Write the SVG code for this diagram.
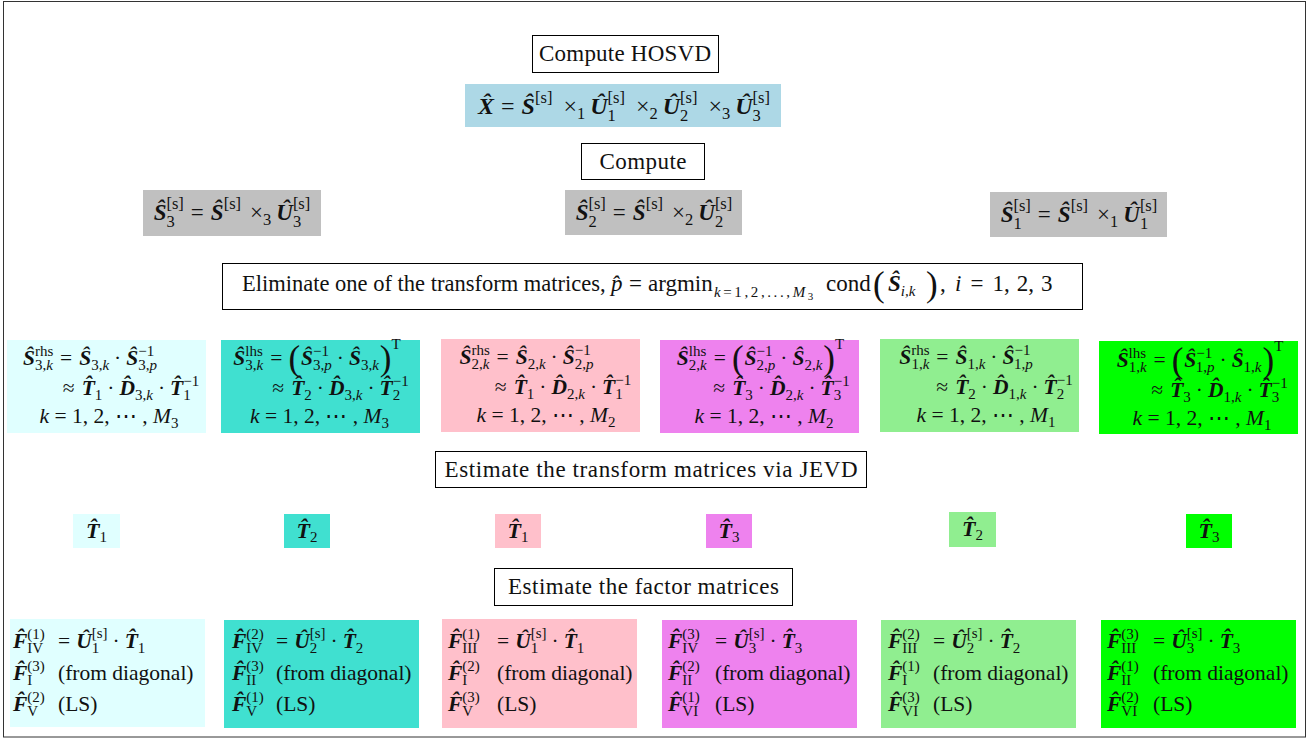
<svg xmlns="http://www.w3.org/2000/svg" width="1310" height="739" viewBox="0 0 1310 739">
<style>
.f{font-family:"Liberation Serif","DejaVu Serif",serif;fill:#111}
.m{font-size:21.5px}
.L{font-size:23px}
.b{font-weight:bold;font-style:italic}
.i{font-style:italic}
.s{font-size:15px}
.s2{font-size:16.5px}
.p{font-size:35px}
.lbl{fill:#fff;stroke:#000;stroke-width:1}
</style>
<rect x="3.5" y="1.5" width="1302" height="735.5" fill="none" stroke="#333" stroke-width="1"/>
<g id="connectors"/>

<g id="n-hosvd-label"><rect class="lbl" x="532.5" y="35.5" width="186" height="37"/><text class="f L" x="625" y="61" text-anchor="middle" textLength="172" lengthAdjust="spacing">Compute HOSVD</text></g>

<g id="n-hosvd"><rect x="465" y="84" width="316" height="43" fill="#ADD8E6"/><text class="f" font-size="24" x="624" y="114" text-anchor="middle"><tspan class="b">X&#x302;</tspan><tspan dx="7">=</tspan><tspan class="b" dx="7">&#x15C;</tspan><tspan class="s2" dy="-11">[s]</tspan><tspan dx="11" dy="11">&#xD7;</tspan><tspan class="s2" dy="5">1</tspan><tspan class="b" dx="5" dy="-5">&#xDB;</tspan><tspan class="s2" dy="7">1</tspan><tspan class="s2" dx="-8.3" dy="-18">[s]</tspan><tspan dx="11" dy="11">&#xD7;</tspan><tspan class="s2" dy="5">2</tspan><tspan class="b" dx="5" dy="-5">&#xDB;</tspan><tspan class="s2" dy="7">2</tspan><tspan class="s2" dx="-8.3" dy="-18">[s]</tspan><tspan dx="11" dy="11">&#xD7;</tspan><tspan class="s2" dy="5">3</tspan><tspan class="b" dx="5" dy="-5">&#xDB;</tspan><tspan class="s2" dy="7">3</tspan><tspan class="s2" dx="-8.3" dy="-18">[s]</tspan></text></g>

<g id="n-compute"><rect class="lbl" x="581.5" y="143.5" width="123" height="36"/><text class="f L" x="643" y="168.5" text-anchor="middle" textLength="87" lengthAdjust="spacing">Compute</text></g>

<g id="n-s3"><rect x="143" y="190" width="178" height="46" fill="#C0C0C0"/><text class="f" font-size="23" x="232" y="220" text-anchor="middle"><tspan class="b">&#x15C;</tspan><tspan class="s2" dy="7">3</tspan><tspan class="s2" dx="-8.3" dy="-18">[s]</tspan><tspan dx="7" dy="11">=</tspan><tspan class="b" dx="7">&#x15C;</tspan><tspan class="s2" dy="-11">[s]</tspan><tspan dx="9" dy="11">&#xD7;</tspan><tspan class="s2" dy="5">3</tspan><tspan class="b" dx="5" dy="-5">&#xDB;</tspan><tspan class="s2" dy="7">3</tspan><tspan class="s2" dx="-8.3" dy="-18">[s]</tspan></text></g>
<g id="n-s2"><rect x="565" y="190" width="177" height="45" fill="#C0C0C0"/><text class="f" font-size="23" x="654" y="220" text-anchor="middle"><tspan class="b">&#x15C;</tspan><tspan class="s2" dy="7">2</tspan><tspan class="s2" dx="-8.3" dy="-18">[s]</tspan><tspan dx="7" dy="11">=</tspan><tspan class="b" dx="7">&#x15C;</tspan><tspan class="s2" dy="-11">[s]</tspan><tspan dx="9" dy="11">&#xD7;</tspan><tspan class="s2" dy="5">2</tspan><tspan class="b" dx="5" dy="-5">&#xDB;</tspan><tspan class="s2" dy="7">2</tspan><tspan class="s2" dx="-8.3" dy="-18">[s]</tspan></text></g>
<g id="n-s1"><rect x="990" y="192" width="177" height="45" fill="#C0C0C0"/><text class="f" font-size="23" x="1079" y="222" text-anchor="middle"><tspan class="b">&#x15C;</tspan><tspan class="s2" dy="7">1</tspan><tspan class="s2" dx="-8.3" dy="-18">[s]</tspan><tspan dx="7" dy="11">=</tspan><tspan class="b" dx="7">&#x15C;</tspan><tspan class="s2" dy="-11">[s]</tspan><tspan dx="9" dy="11">&#xD7;</tspan><tspan class="s2" dy="5">1</tspan><tspan class="b" dx="5" dy="-5">&#xDB;</tspan><tspan class="s2" dy="7">1</tspan><tspan class="s2" dx="-8.3" dy="-18">[s]</tspan></text></g>

<g id="n-elim"><rect class="lbl" x="222.5" y="263.5" width="860" height="46"/>
<text class="f" font-size="22.5" x="242" y="291">Eliminate one of the transform matrices,</text>
<text class="f i L" x="611" y="291">p&#x302;</text>
<text class="f L" x="629" y="291">=</text>
<text class="f L" x="648" y="291">argmin</text>
<text class="f" font-size="15" x="714" y="297" letter-spacing="2.6"><tspan class="i">k</tspan>=1,2,...,<tspan class="i">M</tspan><tspan font-size="11" dy="3">3</tspan></text>
<text class="f L" x="826" y="291">cond</text>
<text class="f p" x="873" y="296">(</text>
<text class="f L" x="888" y="291"><tspan class="b">&#x15C;</tspan><tspan class="s i" dy="5">i,k</tspan></text>
<text class="f p" x="926" y="296">)</text>
<text class="f L" x="940" y="291">,</text>
<text class="f L" x="955" y="291"><tspan class="i">i</tspan><tspan dx="9">=</tspan><tspan dx="9">1,</tspan><tspan dx="7">2,</tspan><tspan dx="7">3</tspan></text>
</g>

<g id="n-r1"><rect x="7" y="340" width="199" height="93" fill="#E0FFFF"/>
<text class="f m" x="90" y="365" text-anchor="middle"><tspan class="b">&#x15C;</tspan><tspan class="s" dy="-9">rhs</tspan><tspan class="s" dx="-18.3" dy="14">3,<tspan class="i">k</tspan></tspan><tspan dx="7" dy="-5">=</tspan><tspan class="b" dx="7">&#x15C;</tspan><tspan class="s" dy="5">3,<tspan class="i">k</tspan></tspan><tspan dx="5" dy="-5">&#xB7;</tspan><tspan class="b" dx="5">&#x15C;</tspan><tspan class="s" dy="-9">&#x2212;1</tspan><tspan class="s" dx="-16" dy="14">3,<tspan class="i">p</tspan></tspan></text>
<text class="f m" x="131" y="395" text-anchor="middle"><tspan>&#x2248;</tspan><tspan class="b" dx="7">T&#x302;</tspan><tspan class="s" dy="5">1</tspan><tspan dx="5" dy="-5">&#xB7;</tspan><tspan class="b" dx="5">D&#x302;</tspan><tspan class="s" dy="5">3,<tspan class="i">k</tspan></tspan><tspan dx="5" dy="-5">&#xB7;</tspan><tspan class="b" dx="5">T&#x302;</tspan><tspan class="s" dy="5">1</tspan><tspan class="s" dx="-7.5" dy="-14">&#x2212;1</tspan></text>
<text class="f m" x="109" y="423" text-anchor="middle"><tspan class="i">k</tspan> = 1, 2, &#x22EF; , <tspan class="i">M</tspan><tspan class="s" dy="5">3</tspan></text>
</g>

<g id="n-r2"><rect x="221" y="340" width="199" height="93" fill="#40E0D0"/>
<text class="f m" x="317" y="365" text-anchor="middle"><tspan class="b">&#x15C;</tspan><tspan class="s" dy="-9">lhs</tspan><tspan class="s" dx="-17.5" dy="14">3,<tspan class="i">k</tspan></tspan><tspan dx="7" dy="-5">=</tspan><tspan class="p" dx="6" dy="5">(</tspan><tspan class="b" dx="1" dy="-5">&#x15C;</tspan><tspan class="s" dy="-9">&#x2212;1</tspan><tspan class="s" dx="-16" dy="14">3,<tspan class="i">p</tspan></tspan><tspan dx="5" dy="-5">&#xB7;</tspan><tspan class="b" dx="5">&#x15C;</tspan><tspan class="s" dy="5">3,<tspan class="i">k</tspan></tspan><tspan class="p" dx="1">)</tspan><tspan class="s" dy="-21">T</tspan></text>
<text class="f m" x="340.5" y="395" text-anchor="middle"><tspan>&#x2248;</tspan><tspan class="b" dx="7">T&#x302;</tspan><tspan class="s" dy="5">2</tspan><tspan dx="5" dy="-5">&#xB7;</tspan><tspan class="b" dx="5">D&#x302;</tspan><tspan class="s" dy="5">3,<tspan class="i">k</tspan></tspan><tspan dx="5" dy="-5">&#xB7;</tspan><tspan class="b" dx="5">T&#x302;</tspan><tspan class="s" dy="5">2</tspan><tspan class="s" dx="-7.5" dy="-14">&#x2212;1</tspan></text>
<text class="f m" x="319.5" y="423" text-anchor="middle"><tspan class="i">k</tspan> = 1, 2, &#x22EF; , <tspan class="i">M</tspan><tspan class="s" dy="5">3</tspan></text>
</g>

<g id="n-r3"><rect x="441" y="339" width="199" height="93" fill="#FFC0CB"/>
<text class="f m" x="526.5" y="364" text-anchor="middle"><tspan class="b">&#x15C;</tspan><tspan class="s" dy="-9">rhs</tspan><tspan class="s" dx="-18.3" dy="14">2,<tspan class="i">k</tspan></tspan><tspan dx="7" dy="-5">=</tspan><tspan class="b" dx="7">&#x15C;</tspan><tspan class="s" dy="5">2,<tspan class="i">k</tspan></tspan><tspan dx="5" dy="-5">&#xB7;</tspan><tspan class="b" dx="5">&#x15C;</tspan><tspan class="s" dy="-9">&#x2212;1</tspan><tspan class="s" dx="-16" dy="14">2,<tspan class="i">p</tspan></tspan></text>
<text class="f m" x="563" y="394" text-anchor="middle"><tspan>&#x2248;</tspan><tspan class="b" dx="7">T&#x302;</tspan><tspan class="s" dy="5">1</tspan><tspan dx="5" dy="-5">&#xB7;</tspan><tspan class="b" dx="5">D&#x302;</tspan><tspan class="s" dy="5">2,<tspan class="i">k</tspan></tspan><tspan dx="5" dy="-5">&#xB7;</tspan><tspan class="b" dx="5">T&#x302;</tspan><tspan class="s" dy="5">1</tspan><tspan class="s" dx="-7.5" dy="-14">&#x2212;1</tspan></text>
<text class="f m" x="546" y="422" text-anchor="middle"><tspan class="i">k</tspan> = 1, 2, &#x22EF; , <tspan class="i">M</tspan><tspan class="s" dy="5">2</tspan></text>
</g>

<g id="n-r4"><rect x="660" y="340" width="199" height="93" fill="#EE82EE"/>
<text class="f m" x="760.5" y="365" text-anchor="middle"><tspan class="b">&#x15C;</tspan><tspan class="s" dy="-9">lhs</tspan><tspan class="s" dx="-17.5" dy="14">2,<tspan class="i">k</tspan></tspan><tspan dx="7" dy="-5">=</tspan><tspan class="p" dx="6" dy="5">(</tspan><tspan class="b" dx="1" dy="-5">&#x15C;</tspan><tspan class="s" dy="-9">&#x2212;1</tspan><tspan class="s" dx="-16" dy="14">2,<tspan class="i">p</tspan></tspan><tspan dx="5" dy="-5">&#xB7;</tspan><tspan class="b" dx="5">&#x15C;</tspan><tspan class="s" dy="5">2,<tspan class="i">k</tspan></tspan><tspan class="p" dx="1">)</tspan><tspan class="s" dy="-21">T</tspan></text>
<text class="f m" x="781.5" y="395" text-anchor="middle"><tspan>&#x2248;</tspan><tspan class="b" dx="7">T&#x302;</tspan><tspan class="s" dy="5">3</tspan><tspan dx="5" dy="-5">&#xB7;</tspan><tspan class="b" dx="5">D&#x302;</tspan><tspan class="s" dy="5">2,<tspan class="i">k</tspan></tspan><tspan dx="5" dy="-5">&#xB7;</tspan><tspan class="b" dx="5">T&#x302;</tspan><tspan class="s" dy="5">3</tspan><tspan class="s" dx="-7.5" dy="-14">&#x2212;1</tspan></text>
<text class="f m" x="764" y="423" text-anchor="middle"><tspan class="i">k</tspan> = 1, 2, &#x22EF; , <tspan class="i">M</tspan><tspan class="s" dy="5">2</tspan></text>
</g>

<g id="n-r5"><rect x="880" y="339" width="199" height="93" fill="#90EE90"/>
<text class="f m" x="966" y="364" text-anchor="middle"><tspan class="b">&#x15C;</tspan><tspan class="s" dy="-9">rhs</tspan><tspan class="s" dx="-18.3" dy="14">1,<tspan class="i">k</tspan></tspan><tspan dx="7" dy="-5">=</tspan><tspan class="b" dx="7">&#x15C;</tspan><tspan class="s" dy="5">1,<tspan class="i">k</tspan></tspan><tspan dx="5" dy="-5">&#xB7;</tspan><tspan class="b" dx="5">&#x15C;</tspan><tspan class="s" dy="-9">&#x2212;1</tspan><tspan class="s" dx="-16" dy="14">1,<tspan class="i">p</tspan></tspan></text>
<text class="f m" x="1004.5" y="394" text-anchor="middle"><tspan>&#x2248;</tspan><tspan class="b" dx="7">T&#x302;</tspan><tspan class="s" dy="5">2</tspan><tspan dx="5" dy="-5">&#xB7;</tspan><tspan class="b" dx="5">D&#x302;</tspan><tspan class="s" dy="5">1,<tspan class="i">k</tspan></tspan><tspan dx="5" dy="-5">&#xB7;</tspan><tspan class="b" dx="5">T&#x302;</tspan><tspan class="s" dy="5">2</tspan><tspan class="s" dx="-7.5" dy="-14">&#x2212;1</tspan></text>
<text class="f m" x="986" y="422" text-anchor="middle"><tspan class="i">k</tspan> = 1, 2, &#x22EF; , <tspan class="i">M</tspan><tspan class="s" dy="5">1</tspan></text>
</g>

<g id="n-r6"><rect x="1099" y="341" width="199" height="93" fill="#00FF00"/>
<text class="f m" x="1200" y="367" text-anchor="middle"><tspan class="b">&#x15C;</tspan><tspan class="s" dy="-9">lhs</tspan><tspan class="s" dx="-17.5" dy="14">1,<tspan class="i">k</tspan></tspan><tspan dx="7" dy="-5">=</tspan><tspan class="p" dx="6" dy="5">(</tspan><tspan class="b" dx="1" dy="-5">&#x15C;</tspan><tspan class="s" dy="-9">&#x2212;1</tspan><tspan class="s" dx="-16" dy="14">1,<tspan class="i">p</tspan></tspan><tspan dx="5" dy="-5">&#xB7;</tspan><tspan class="b" dx="5">&#x15C;</tspan><tspan class="s" dy="5">1,<tspan class="i">k</tspan></tspan><tspan class="p" dx="1">)</tspan><tspan class="s" dy="-21">T</tspan></text>
<text class="f m" x="1219.5" y="397" text-anchor="middle"><tspan>&#x2248;</tspan><tspan class="b" dx="7">T&#x302;</tspan><tspan class="s" dy="5">3</tspan><tspan dx="5" dy="-5">&#xB7;</tspan><tspan class="b" dx="5">D&#x302;</tspan><tspan class="s" dy="5">1,<tspan class="i">k</tspan></tspan><tspan dx="5" dy="-5">&#xB7;</tspan><tspan class="b" dx="5">T&#x302;</tspan><tspan class="s" dy="5">3</tspan><tspan class="s" dx="-7.5" dy="-14">&#x2212;1</tspan></text>
<text class="f m" x="1202" y="425" text-anchor="middle"><tspan class="i">k</tspan> = 1, 2, &#x22EF; , <tspan class="i">M</tspan><tspan class="s" dy="5">1</tspan></text>
</g>

<g id="n-jevd"><rect class="lbl" x="435.5" y="451.5" width="431" height="36"/><text class="f L" x="651" y="476.5" text-anchor="middle" textLength="413" lengthAdjust="spacing">Estimate the transform matrices via JEVD</text></g>

<g id="n-t1"><rect x="73" y="514" width="47" height="34" fill="#E0FFFF"/><text class="f" font-size="22" x="96.5" y="538" text-anchor="middle"><tspan class="b">T&#x302;</tspan><tspan class="s" dy="4">1</tspan></text></g>
<g id="n-t2"><rect x="284" y="514" width="46" height="34" fill="#40E0D0"/><text class="f" font-size="22" x="307" y="538" text-anchor="middle"><tspan class="b">T&#x302;</tspan><tspan class="s" dy="4">2</tspan></text></g>
<g id="n-t3"><rect x="495" y="514" width="46" height="34" fill="#FFC0CB"/><text class="f" font-size="22" x="518" y="538" text-anchor="middle"><tspan class="b">T&#x302;</tspan><tspan class="s" dy="4">1</tspan></text></g>
<g id="n-t4"><rect x="706" y="514" width="46" height="34" fill="#EE82EE"/><text class="f" font-size="22" x="729" y="538" text-anchor="middle"><tspan class="b">T&#x302;</tspan><tspan class="s" dy="4">3</tspan></text></g>
<g id="n-t5"><rect x="949" y="512" width="47" height="35" fill="#90EE90"/><text class="f" font-size="22" x="972.5" y="536" text-anchor="middle"><tspan class="b">T&#x302;</tspan><tspan class="s" dy="4">2</tspan></text></g>
<g id="n-t6"><rect x="1186" y="514" width="46" height="34" fill="#00FF00"/><text class="f" font-size="22" x="1209" y="538" text-anchor="middle"><tspan class="b">T&#x302;</tspan><tspan class="s" dy="4">3</tspan></text></g>

<g id="n-factor"><rect class="lbl" x="494.5" y="568.5" width="298" height="37"/><text class="f L" x="643.5" y="594" text-anchor="middle" textLength="271" lengthAdjust="spacing">Estimate the factor matrices</text></g>

<g id="n-f1"><rect x="10" y="619" width="195" height="108" fill="#E0FFFF"/>
<text class="f m" x="13" y="648"><tspan class="b">F&#x302;</tspan><tspan class="s" dy="-9">(1)</tspan><tspan class="s" dx="-17.5" dy="14">IV</tspan><tspan x="58" dy="-5">=</tspan><tspan class="b" dx="6">&#xDB;</tspan><tspan class="s" dy="5">1</tspan><tspan class="s" dx="-7.5" dy="-15">[s]</tspan><tspan dx="5" dy="10">&#xB7;</tspan><tspan class="b" dx="5">T&#x302;</tspan><tspan class="s" dy="5">1</tspan></text>
<text class="f m" x="13" y="680"><tspan class="b">F&#x302;</tspan><tspan class="s" dy="-9">(3)</tspan><tspan class="s" dx="-17.5" dy="14">I</tspan><tspan x="58" dy="-5">(from diagonal)</tspan></text>
<text class="f m" x="13" y="711"><tspan class="b">F&#x302;</tspan><tspan class="s" dy="-9">(2)</tspan><tspan class="s" dx="-17.5" dy="14">V</tspan><tspan x="58" dy="-5">(LS)</tspan></text>
</g>

<g id="n-f2"><rect x="224" y="620" width="195" height="108" fill="#40E0D0"/>
<text class="f m" x="232" y="648"><tspan class="b">F&#x302;</tspan><tspan class="s" dy="-9">(2)</tspan><tspan class="s" dx="-17.5" dy="14">IV</tspan><tspan x="276" dy="-5">=</tspan><tspan class="b" dx="6">&#xDB;</tspan><tspan class="s" dy="5">2</tspan><tspan class="s" dx="-7.5" dy="-15">[s]</tspan><tspan dx="5" dy="10">&#xB7;</tspan><tspan class="b" dx="5">T&#x302;</tspan><tspan class="s" dy="5">2</tspan></text>
<text class="f m" x="232" y="680"><tspan class="b">F&#x302;</tspan><tspan class="s" dy="-9">(3)</tspan><tspan class="s" dx="-17.5" dy="14">II</tspan><tspan x="276" dy="-5">(from diagonal)</tspan></text>
<text class="f m" x="232" y="711"><tspan class="b">F&#x302;</tspan><tspan class="s" dy="-9">(1)</tspan><tspan class="s" dx="-17.5" dy="14">V</tspan><tspan x="276" dy="-5">(LS)</tspan></text>
</g>

<g id="n-f3"><rect x="442" y="619" width="195" height="109" fill="#FFC0CB"/>
<text class="f m" x="448" y="648"><tspan class="b">F&#x302;</tspan><tspan class="s" dy="-9">(1)</tspan><tspan class="s" dx="-17.5" dy="14">III</tspan><tspan x="497" dy="-5">=</tspan><tspan class="b" dx="6">&#xDB;</tspan><tspan class="s" dy="5">1</tspan><tspan class="s" dx="-7.5" dy="-15">[s]</tspan><tspan dx="5" dy="10">&#xB7;</tspan><tspan class="b" dx="5">T&#x302;</tspan><tspan class="s" dy="5">1</tspan></text>
<text class="f m" x="448" y="680"><tspan class="b">F&#x302;</tspan><tspan class="s" dy="-9">(2)</tspan><tspan class="s" dx="-17.5" dy="14">I</tspan><tspan x="497" dy="-5">(from diagonal)</tspan></text>
<text class="f m" x="448" y="711"><tspan class="b">F&#x302;</tspan><tspan class="s" dy="-9">(3)</tspan><tspan class="s" dx="-17.5" dy="14">V</tspan><tspan x="497" dy="-5">(LS)</tspan></text>
</g>

<g id="n-f4"><rect x="662" y="620" width="195" height="108" fill="#EE82EE"/>
<text class="f m" x="668" y="648"><tspan class="b">F&#x302;</tspan><tspan class="s" dy="-9">(3)</tspan><tspan class="s" dx="-17.5" dy="14">IV</tspan><tspan x="715" dy="-5">=</tspan><tspan class="b" dx="6">&#xDB;</tspan><tspan class="s" dy="5">3</tspan><tspan class="s" dx="-7.5" dy="-15">[s]</tspan><tspan dx="5" dy="10">&#xB7;</tspan><tspan class="b" dx="5">T&#x302;</tspan><tspan class="s" dy="5">3</tspan></text>
<text class="f m" x="668" y="680"><tspan class="b">F&#x302;</tspan><tspan class="s" dy="-9">(2)</tspan><tspan class="s" dx="-17.5" dy="14">II</tspan><tspan x="715" dy="-5">(from diagonal)</tspan></text>
<text class="f m" x="668" y="711"><tspan class="b">F&#x302;</tspan><tspan class="s" dy="-9">(1)</tspan><tspan class="s" dx="-17.5" dy="14">VI</tspan><tspan x="715" dy="-5">(LS)</tspan></text>
</g>

<g id="n-f5"><rect x="881" y="620" width="195" height="108" fill="#90EE90"/>
<text class="f m" x="888" y="648"><tspan class="b">F&#x302;</tspan><tspan class="s" dy="-9">(2)</tspan><tspan class="s" dx="-17.5" dy="14">III</tspan><tspan x="933" dy="-5">=</tspan><tspan class="b" dx="6">&#xDB;</tspan><tspan class="s" dy="5">2</tspan><tspan class="s" dx="-7.5" dy="-15">[s]</tspan><tspan dx="5" dy="10">&#xB7;</tspan><tspan class="b" dx="5">T&#x302;</tspan><tspan class="s" dy="5">2</tspan></text>
<text class="f m" x="888" y="680"><tspan class="b">F&#x302;</tspan><tspan class="s" dy="-9">(1)</tspan><tspan class="s" dx="-17.5" dy="14">I</tspan><tspan x="933" dy="-5">(from diagonal)</tspan></text>
<text class="f m" x="888" y="711"><tspan class="b">F&#x302;</tspan><tspan class="s" dy="-9">(3)</tspan><tspan class="s" dx="-17.5" dy="14">VI</tspan><tspan x="933" dy="-5">(LS)</tspan></text>
</g>

<g id="n-f6"><rect x="1101" y="620" width="195" height="108" fill="#00FF00"/>
<text class="f m" x="1107" y="648"><tspan class="b">F&#x302;</tspan><tspan class="s" dy="-9">(3)</tspan><tspan class="s" dx="-17.5" dy="14">III</tspan><tspan x="1153" dy="-5">=</tspan><tspan class="b" dx="6">&#xDB;</tspan><tspan class="s" dy="5">3</tspan><tspan class="s" dx="-7.5" dy="-15">[s]</tspan><tspan dx="5" dy="10">&#xB7;</tspan><tspan class="b" dx="5">T&#x302;</tspan><tspan class="s" dy="5">3</tspan></text>
<text class="f m" x="1107" y="680"><tspan class="b">F&#x302;</tspan><tspan class="s" dy="-9">(1)</tspan><tspan class="s" dx="-17.5" dy="14">II</tspan><tspan x="1153" dy="-5">(from diagonal)</tspan></text>
<text class="f m" x="1107" y="711"><tspan class="b">F&#x302;</tspan><tspan class="s" dy="-9">(2)</tspan><tspan class="s" dx="-17.5" dy="14">VI</tspan><tspan x="1153" dy="-5">(LS)</tspan></text>
</g>
</svg>
